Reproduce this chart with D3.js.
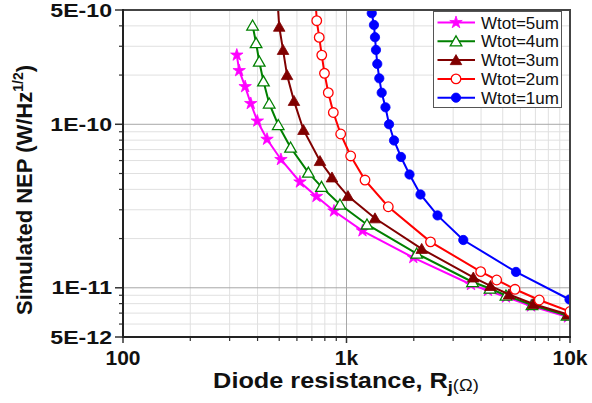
<!DOCTYPE html>
<html><head><meta charset="utf-8">
<script src="https://cdn.jsdelivr.net/npm/d3@7"></script>
<style>
body{margin:0;background:#fff}
svg{display:block}
text{font-family:"Liberation Sans",Arial,Helvetica,sans-serif}
</style>
</head><body>
<svg id="chart" width="592" height="403"></svg>
<script>
// ---------------- data ----------------
const seriesNames = ["Wtot=5um", "Wtot=4um", "Wtot=3um", "Wtot=2um", "Wtot=1um"];
const seriesColors = ["#ff00ff", "#008000", "#800000", "#ff0000", "#0000ff"];
const seriesSymbols = ["star", "triangleOpen", "triangle", "circleOpen", "circle"];

const rj5um  = [323, 331, 352, 373, 399, 441, 509, 619, 734, 879, 1179, 1990, 3606, 4296, 5170, 6690, 9790];
const nep5um = [2.65e-10, 2.13e-10, 1.70e-10, 1.34e-10, 1.047e-10, 8.10e-11, 6.09e-11, 4.44e-11, 3.62e-11, 2.95e-11, 2.23e-11, 1.53e-11, 1.047e-11, 9.63e-12, 8.78e-12, 7.74e-12, 6.63e-12];

const rj4um  = [380, 394, 407, 425, 451, 495, 562, 675, 773, 935, 1235, 2061, 3663, 4385, 5170, 6761, 9700];
const nep4um = [4.02e-10, 3.14e-10, 2.42e-10, 1.83e-10, 1.34e-10, 9.90e-11, 7.21e-11, 5.06e-11, 4.14e-11, 3.23e-11, 2.44e-11, 1.62e-11, 1.085e-11, 9.90e-12, 8.97e-12, 7.85e-12, 6.77e-12];

const rj3um  = [491, 500, 520, 542, 582, 642, 761, 861, 1015, 1341, 2170, 3693, 4409, 5335, 6852, 9790];
const nep3um = [5.76e-10, 3.95e-10, 2.85e-10, 2.00e-10, 1.39e-10, 9.23e-11, 5.96e-11, 4.73e-11, 3.64e-11, 2.66e-11, 1.73e-11, 1.156e-11, 1.026e-11, 9.10e-12, 7.96e-12, 6.87e-12];

const rj2um  = [727, 736, 755, 775, 797, 829, 873, 942, 1044, 1210, 1538, 2376, 3985, 4699, 5675, 7288, 10000];
const nep2um = [5.76e-10, 4.30e-10, 3.40e-10, 2.65e-10, 2.05e-10, 1.56e-10, 1.18e-10, 8.72e-11, 6.40e-11, 4.56e-11, 3.13e-11, 1.91e-11, 1.255e-11, 1.116e-11, 9.79e-12, 8.42e-12, 7.16e-12];

const rj1um  = [1284, 1297, 1327, 1341, 1355, 1373, 1402, 1437, 1494, 1550, 1632, 1753, 1914, 2143, 2554, 3331, 5733, 9950];
const nep1um = [5.76e-10, 4.78e-10, 4.05e-10, 3.41e-10, 2.85e-10, 2.34e-10, 1.91e-10, 1.56e-10, 1.27e-10, 1.00e-10, 7.96e-11, 6.31e-11, 4.93e-11, 3.72e-11, 2.77e-11, 1.96e-11, 1.25e-11, 8.48e-12];

const xTickValues = [100, 1000, 10000];
const xTickLabels = ["100", "1k", "10k"];
const yTickValues = [5e-12, 1e-11, 1e-10, 5e-10];
const yTickLabels = ["5E-12", "1E-11", "1E-10", "5E-10"];

const xTitle = "Diode resistance, R";
const yTitle = "Simulated NEP (W/Hz";

// ---------------- build ----------------
const seriesX = [rj5um, rj4um, rj3um, rj2um, rj1um];
const seriesY = [nep5um, nep4um, nep3um, nep2um, nep1um];
const series = seriesNames.map((name, i) => ({
  name, color: seriesColors[i], symbol: seriesSymbols[i],
  points: seriesX[i].map((x, j) => ({x, y: seriesY[i][j]}))
}));

const svg = d3.select("#chart");
const L = 123, R = 570, T = 10, B = 337;

const x = d3.scaleLog().domain([100, 10000]).range([L, R]);
const y = d3.scaleLog().domain([5e-12, 5e-10]).range([B, T]);

// minor values
const xMinor = [];
for (let e = 2; e < 4; e++) for (let k = 2; k <= 9; k++) xMinor.push(k * Math.pow(10, e));
const yMinor = [];
for (let e = -12; e <= -10; e++) for (let k = 2; k <= 9; k++) {
  const v = k * Math.pow(10, e);
  if (v > 5.0001e-12 && v < 4.9999e-10) yMinor.push(v);
}
const yMajorGrid = [1e-11, 1e-10];
const xMajorGrid = [1000];

// grid
const grid = svg.append("g");
grid.selectAll(".xmin").data(xMinor).join("line")
  .attr("x1", d => x(d)).attr("x2", d => x(d)).attr("y1", T).attr("y2", B)
  .attr("stroke", "#e0e0e0").attr("stroke-width", 1);
grid.selectAll(".ymin").data(yMinor).join("line")
  .attr("y1", d => y(d)).attr("y2", d => y(d)).attr("x1", L).attr("x2", R)
  .attr("stroke", "#e0e0e0").attr("stroke-width", 1);
grid.selectAll(".xmaj").data(xMajorGrid).join("line")
  .attr("x1", d => x(d)).attr("x2", d => x(d)).attr("y1", T).attr("y2", B)
  .attr("stroke", "#a8a8a8").attr("stroke-width", 1);
grid.selectAll(".ymaj").data(yMajorGrid).join("line")
  .attr("y1", d => y(d)).attr("y2", d => y(d)).attr("x1", L).attr("x2", R)
  .attr("stroke", "#a8a8a8").attr("stroke-width", 1);

// axes ticks (outward)
const axisColor = "#333";
const xAxis = svg.append("g").attr("transform", `translate(0,${B})`);
xAxis.selectAll(".t").data(xMinor).join("line")
  .attr("x1", d => x(d)).attr("x2", d => x(d)).attr("y1", 0).attr("y2", 4)
  .attr("stroke", axisColor).attr("stroke-width", 1.2);
xAxis.selectAll(".T").data(xTickValues).join("line")
  .attr("x1", d => x(d)).attr("x2", d => x(d)).attr("y1", 0).attr("y2", 6)
  .attr("stroke", axisColor).attr("stroke-width", 1.5);
xAxis.selectAll("text").data(xTickValues).join("text")
  .attr("x", d => x(d)).attr("y", 28)
  .attr("text-anchor", "middle").attr("font-size", 21).attr("font-weight", "bold").attr("fill", "#111")
  .text((d, i) => xTickLabels[i]);

const yAxis = svg.append("g").attr("transform", `translate(${L},0)`);
yAxis.selectAll(".t").data(yMinor).join("line")
  .attr("y1", d => y(d)).attr("y2", d => y(d)).attr("x1", 0).attr("x2", -4)
  .attr("stroke", axisColor).attr("stroke-width", 1.2);
yAxis.selectAll(".T").data(yTickValues).join("line")
  .attr("y1", d => y(d)).attr("y2", d => y(d)).attr("x1", 0).attr("x2", -8)
  .attr("stroke", axisColor).attr("stroke-width", 1.5);
yAxis.selectAll("text").data(yTickValues).join("text")
  .attr("transform", d => `translate(-11,${y(d) + 6.5}) scale(1.25,1)`)
  .attr("text-anchor", "end").attr("font-size", 18.5).attr("font-weight", "bold").attr("fill", "#111")
  .text((d, i) => yTickLabels[i]);

// clip
svg.append("clipPath").attr("id", "clip").append("rect")
  .attr("x", L).attr("y", T).attr("width", R - L).attr("height", B - T);

const plot = svg.append("g").attr("clip-path", "url(#clip)");
const line = d3.line().x(d => x(d.x)).y(d => y(d.y));

function symbolPath(kind) {
  if (kind === "star") return d3.symbol().type(d3.symbolStar).size(48)();
  if (kind === "triangle" || kind === "triangleOpen") return d3.symbol().type(d3.symbolTriangle).size(58)();
  return d3.symbol().type(d3.symbolCircle).size(kind === "circleOpen" ? 72 : 68)();
}
function styleMarker(sel, s) {
  const open = s.symbol.endsWith("Open");
  sel.attr("fill", open ? "#fff" : s.color)
     .attr("stroke", s.color).attr("stroke-width", open ? 1.3 : 0.8);
}

series.forEach(s => {
  const g = plot.append("g");
  g.append("path").datum(s.points).attr("d", line)
    .attr("fill", "none").attr("stroke", s.color).attr("stroke-width", 2);
  const p = symbolPath(s.symbol);
  const yOff = s.symbol.startsWith("triangle") ? 1.2 : 0;
  g.selectAll("path.m").data(s.points).join("path").attr("class", "m")
    .attr("d", p).attr("transform", d => `translate(${x(d.x)},${y(d.y) + yOff})`)
    .call(styleMarker, s);
});

// frame
svg.append("rect").attr("x", L).attr("y", T).attr("width", R - L).attr("height", B - T)
  .attr("fill", "none").attr("stroke", "#444").attr("stroke-width", 2);
svg.append("line").attr("x1", L).attr("x2", L).attr("y1", T - 1).attr("y2", B + 1)
  .attr("stroke", "#222").attr("stroke-width", 2);
svg.append("line").attr("x1", L - 1).attr("x2", R + 1).attr("y1", B).attr("y2", B)
  .attr("stroke", "#222").attr("stroke-width", 2);

// legend
const lg = svg.append("g");
lg.append("rect").attr("x", 433.5).attr("y", 11.5).attr("width", 128).attr("height", 96)
  .attr("fill", "#fff").attr("stroke", "#555").attr("stroke-width", 1);
series.forEach((s, i) => {
  const cy = 22.5 + i * 18.8;
  lg.append("line").attr("x1", 437.5).attr("x2", 475).attr("y1", cy).attr("y2", cy)
    .attr("stroke", s.color).attr("stroke-width", 2);
  const yOff = s.symbol.startsWith("triangle") ? 1.2 : 0;
  lg.append("path").attr("d", symbolPath(s.symbol)).attr("transform", `translate(456,${cy + yOff})`)
    .call(styleMarker, s);
  lg.append("text").attr("x", 481).attr("y", cy + 6).attr("font-size", 17).attr("fill", "#111")
    .text(s.name);
});

// axis titles
const xt = svg.append("text")
  .attr("transform", `translate(346,388) scale(1.15,1)`)
  .attr("text-anchor", "middle").attr("font-size", 22).attr("font-weight", "bold").attr("fill", "#111");
xt.append("tspan").text(xTitle);
xt.append("tspan").attr("font-size", 16).attr("dy", 5).text("j");
xt.append("tspan").attr("font-size", 16).attr("dy", -2).attr("font-weight", "normal").text("(Ω)");

const yt = svg.append("text")
  .attr("transform", `translate(32,190) rotate(-90)`)
  .attr("text-anchor", "middle").attr("font-size", 22).attr("font-weight", "bold").attr("fill", "#111");
yt.append("tspan").text(yTitle);
yt.append("tspan").attr("font-size", 14).attr("dy", -9).text("1/2");
yt.append("tspan").attr("dy", 9).text(")");
</script>
</body></html>
